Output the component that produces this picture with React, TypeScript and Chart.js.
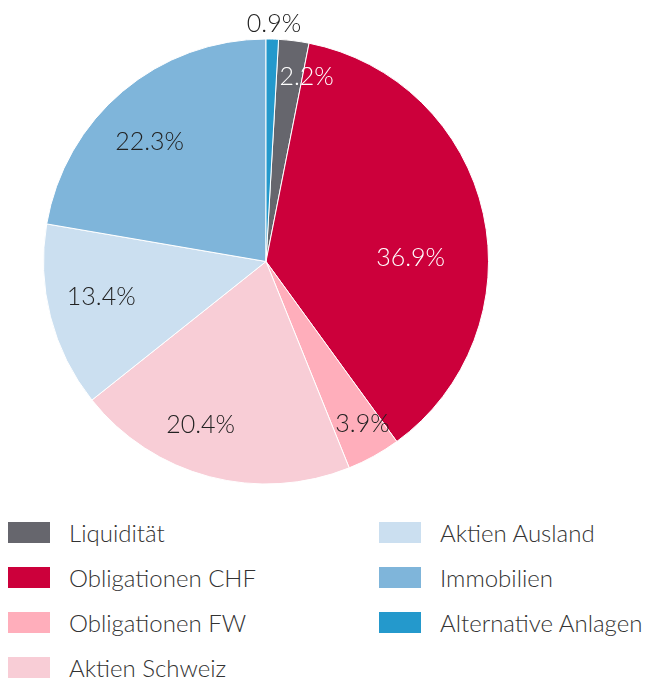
import React, { useEffect, useRef } from "react";
import { Chart, registerables } from "chart.js";

Chart.register(...registerables);

const categories = [
  "Liquidität",
  "Obligationen CHF",
  "Obligationen FW",
  "Aktien Schweiz",
  "Aktien Ausland",
  "Immobilien",
  "Alternative Anlagen",
];
const values = [2.2, 36.9, 3.9, 20.4, 13.4, 22.3, 0.9];
const valueLabels = ["2.2%", "36.9%", "3.9%", "20.4%", "13.4%", "22.3%", "0.9%"];
const colors = ["#66666d", "#cc003b", "#ffaebb", "#f8cdd6", "#cbdff0", "#7fb5da", "#2499cc"];
const labelColors = ["#ffffff", "#ffffff", "#222222", "#222222", "#222222", "#222222", "#222222"];
const labelAngleOffsetDeg = [5.2, 11, -1.7, 7.1, 2.4, -4.1, 0.3];
const labelRadiusFrac = [0.85, 0.65, 0.85, 0.79, 0.757, 0.75, 1.07];
const legendLeft = [0, 1, 2, 3];
const legendRight = [4, 5, 6];

const FONT = "Lato, 'DejaVu Sans', sans-serif";

const labelPlugin = {
  id: "sliceLabels",
  afterDatasetsDraw(chart: any) {
    const ctx = chart.ctx;
    const meta = chart.getDatasetMeta(0);
    ctx.save();
    ctx.font = `300 25px ${FONT}`;
    ctx.textAlign = "center";
    ctx.textBaseline = "middle";
    meta.data.forEach((arc: any, i: number) => {
      const p = arc.getProps(["x", "y", "startAngle", "endAngle", "outerRadius"], true);
      const mid = (p.startAngle + p.endAngle) / 2 + (labelAngleOffsetDeg[i] * Math.PI) / 180;
      const r = p.outerRadius * labelRadiusFrac[i];
      ctx.fillStyle = labelColors[i];
      ctx.fillText(valueLabels[i], p.x + Math.cos(mid) * r, p.y + Math.sin(mid) * r);
    });
    ctx.restore();
  },
};

function LegendItem({ idx }: { idx: number }) {
  return (
    <div style={{ display: "flex", alignItems: "center", height: 45 }}>
      <div style={{ width: 42, height: 21, background: colors[idx], marginRight: 19, flex: "none" }} />
      <span style={{ font: `300 24px ${FONT}`, color: "#333333", whiteSpace: "nowrap" }}>
        {categories[idx]}
      </span>
    </div>
  );
}

export default function App() {
  const ref = useRef<HTMLCanvasElement>(null);
  useEffect(() => {
    if (!ref.current) return;
    const chart = new Chart(ref.current, {
      type: "pie",
      data: {
        labels: categories,
        datasets: [
          {
            data: values,
            backgroundColor: colors,
            borderColor: "#ffffff",
            borderWidth: 1,
          },
        ],
      },
      options: {
        animation: false,
        responsive: false,
        rotation: 3.24,
        layout: { padding: { left: 43, right: 156, top: 38, bottom: 15 } },
        plugins: {
          legend: { display: false },
          tooltip: { enabled: false },
        },
      },
      plugins: [labelPlugin],
    });
    return () => chart.destroy();
  }, []);
  return (
    <div style={{ position: "absolute", left: 0, top: 0, width: 645, height: 682, background: "#fff" }}>
      <canvas ref={ref} width={645} height={500} style={{ display: "block", width: 645, height: 500 }} />
      <div style={{ position: "absolute", left: 8, top: 510, width: 300 }}>
        {legendLeft.map((i) => (
          <LegendItem key={i} idx={i} />
        ))}
      </div>
      <div style={{ position: "absolute", left: 379, top: 510, width: 270 }}>
        {legendRight.map((i) => (
          <LegendItem key={i} idx={i} />
        ))}
      </div>
    </div>
  );
}
